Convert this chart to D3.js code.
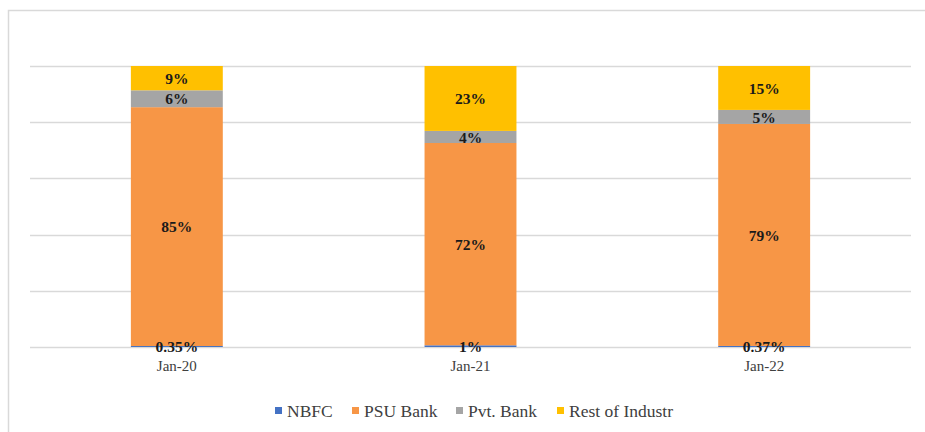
<!DOCTYPE html>
<html><head><meta charset="utf-8">
<script src="https://cdn.jsdelivr.net/npm/d3@7"></script>
<style>body{margin:0;background:#fff;}svg{display:block;font-family:"Liberation Serif","DejaVu Serif",serif;}</style>
</head><body>
<svg id="c" width="925" height="432"></svg>
<script>
const categories = ["Jan-20", "Jan-21", "Jan-22"];
const seriesNames = ["NBFC", "PSU Bank", "Pvt. Bank", "Rest of Industr"];
const nbfc = [0.35, 0.6, 0.37];
const psuBank = [85, 72, 79];
const pvtBank = [6, 4.3, 5];
const restOfIndustry = [8.65, 23.1, 15.63];
const labelText = [["0.35%","85%","6%","9%"],["1%","72%","4%","23%"],["0.37%","79%","5%","15%"]];
const yTicks = [0, 20, 40, 60, 80, 100];
const colors = ["#4472C4", "#F79646", "#A5A5A5", "#FFC000"];

const svg = d3.select("#c");
// outer frame
svg.append("rect").attr("x", 8.5).attr("y", 10.5).attr("width", 940).attr("height", 440)
  .attr("fill", "none").attr("stroke", "#d9d9d9").attr("stroke-width", 1.5);

const pLeft = 30, pRight = 911, pTop = 66, pBottom = 347;
const x = d3.scaleBand().domain(categories).range([pLeft, pRight]).paddingInner(0.687).paddingOuter(0.3435);
const y = d3.scaleLinear().domain([0, 100]).range([pBottom, pTop]);

// gridlines
svg.append("g").selectAll("line").data(yTicks).join("line")
  .attr("x1", pLeft).attr("x2", pRight)
  .attr("y1", d => Math.round(y(d)) + 0.5).attr("y2", d => Math.round(y(d)) + 0.5)
  .attr("stroke", "#d9d9d9").attr("stroke-width", 1.5);

const rows = categories.map((c, i) => ({cat: c, NBFC: nbfc[i], "PSU Bank": psuBank[i], "Pvt. Bank": pvtBank[i], "Rest of Industr": restOfIndustry[i]}));
const stack = d3.stack().keys(seriesNames)(rows);

const g = svg.append("g");
stack.forEach((layer, si) => {
  g.selectAll(null).data(layer).join("rect")
    .attr("x", d => x(d.data.cat)).attr("width", x.bandwidth())
    .attr("y", d => y(d[1])).attr("height", d => y(d[0]) - y(d[1]))
    .attr("fill", colors[si]);
});
stack.forEach((layer, si) => {
  g.selectAll(null).data(layer).join("text")
    .attr("x", d => x(d.data.cat) + x.bandwidth() / 2)
    .attr("y", d => (y(d[0]) + y(d[1])) / 2)
    .attr("dy", "0.36em")
    .attr("text-anchor", "middle").attr("font-weight", "bold").attr("font-size", 15.5).attr("fill", "#1a1a1a")
    .text((d, i) => labelText[i][si]);
});

// category axis labels
svg.append("g").selectAll("text").data(categories).join("text")
  .attr("x", d => x(d) + x.bandwidth() / 2).attr("y", 371)
  .attr("text-anchor", "middle").attr("font-size", 15).attr("fill", "#404040").text(d => d);

// legend
const legX = [275, 352, 456, 557];
const lg = svg.append("g");
seriesNames.forEach((s, i) => {
  lg.append("rect").attr("x", legX[i]).attr("y", 407).attr("width", 7).attr("height", 7).attr("fill", colors[i]);
  lg.append("text").attr("x", legX[i] + 12).attr("y", 416.5).attr("font-size", 17.5).attr("fill", "#404040").text(s);
});
</script>
</body></html>
